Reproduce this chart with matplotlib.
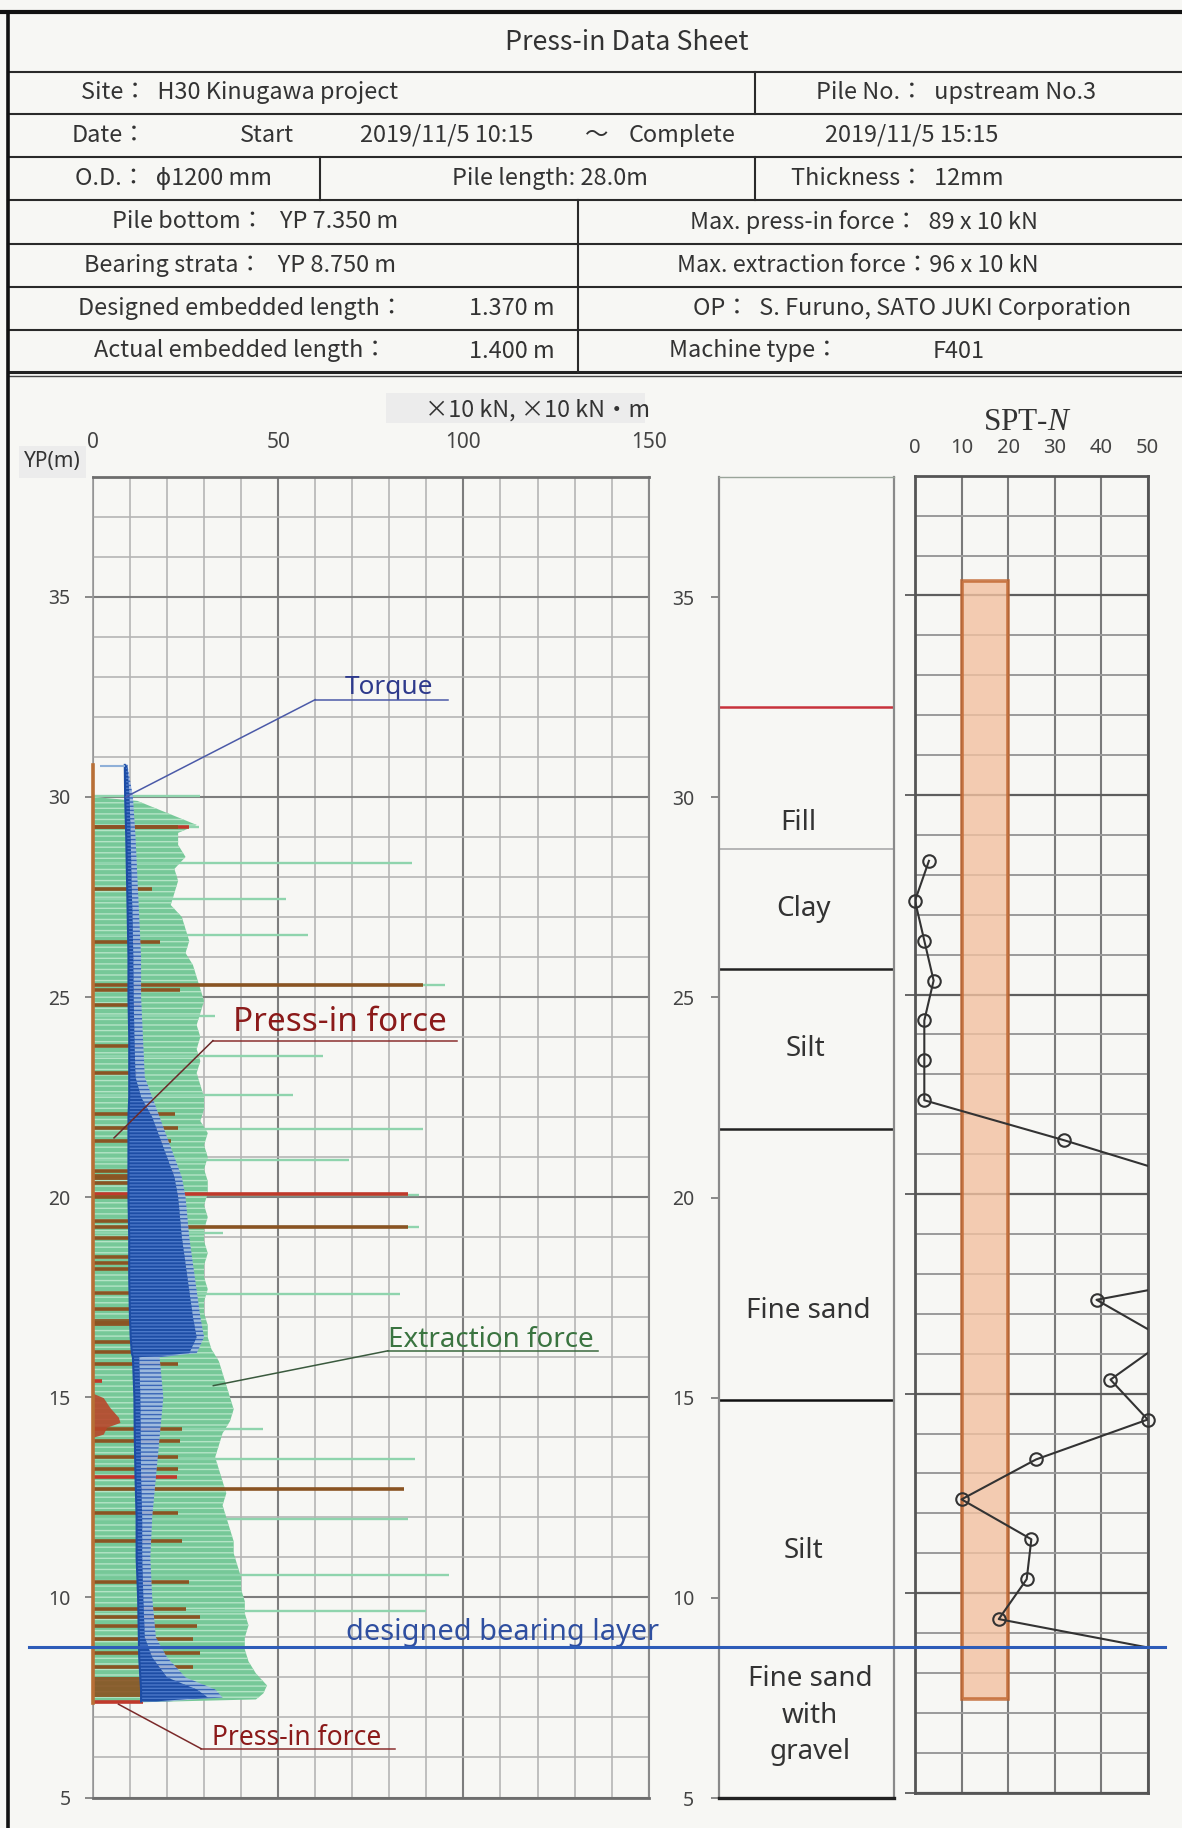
import matplotlib
matplotlib.use('Agg')
import matplotlib.pyplot as plt
import matplotlib.transforms as mtransforms
from matplotlib.patches import Rectangle

W, H = 1182, 1828
BG = '#f7f7f4'
JP = ['Noto Sans CJK JP', 'DejaVu Sans']
SANS = ['Noto Sans', 'DejaVu Sans']

plt.rcParams['mathtext.fontset'] = 'custom'
plt.rcParams['mathtext.rm'] = 'Liberation Serif'
plt.rcParams['mathtext.it'] = 'Liberation Serif:italic'
plt.rcParams['hatch.linewidth'] = 1.0

# ---------------- header sheet ----------------
sheet_title = 'Press-in Data Sheet'
row_lines = [12, 72, 114, 157, 200, 244, 287, 330, 372]
row1 = [('Site：  H30 Kinugawa project', 81), ('Pile No.：  upstream No.3', 816)]
row2 = [('Date：', 72), ('Start', 240), ('2019/11/5 10:15', 360), ('～', 584),
        ('Complete', 629), ('2019/11/5 15:15', 825)]
row3 = [('O.D.：  ϕ1200 mm', 75), ('Pile length: 28.0m', 452), ('Thickness：  12mm', 791)]
row4 = [('Pile bottom：   YP 7.350 m', 112), ('Max. press-in force：  89 x 10 kN', 690)]
row5 = [('Bearing strata：   YP 8.750 m', 84), ('Max. extraction force：96 x 10 kN', 677)]
row6 = [('Designed embedded length：', 78), ('1.370 m', 469),
        ('OP：  S. Furuno, SATO JUKI Corporation', 693)]
row7 = [('Actual embedded length：', 94), ('1.400 m', 469), ('Machine type：', 669), ('F401', 933)]
rows = [row1, row2, row3, row4, row5, row6, row7]

# ---------------- press-in record ----------------
bearing_layer = 8.75
pile_bottom = 7.35
pile_length = 28.0
record_top = 30.8

# extraction force: envelope of the dense record (YP m, x10 kN)
ext_depth = [30.0, 29.9, 29.6, 29.3, 29.1, 28.8, 28.5, 28.2, 27.9, 27.6, 27.3, 27.0, 26.7,
             26.4, 26.1, 25.8, 25.5, 25.2, 24.9, 24.6, 24.3, 24.0, 23.7, 23.4, 23.1, 22.8,
             22.5, 22.2, 21.9, 21.6, 21.3, 21.0, 20.7, 20.4, 20.1, 19.8, 19.5, 19.2, 18.9,
             18.6, 18.3, 18.0, 17.7, 17.4, 17.1, 16.8, 16.5, 16.2, 15.9, 15.6, 15.3, 15.0,
             14.7, 14.4, 14.1, 13.8, 13.5, 13.2, 12.9, 12.6, 12.3, 12.0, 11.7, 11.4, 11.1,
             10.8, 10.5, 10.2, 9.9, 9.6, 9.3, 9.0, 8.7, 8.4, 8.1, 7.8, 7.6, 7.45, 7.35]
ext_value = [0, 12, 20, 28, 23, 23, 25, 22, 23, 22, 21, 24, 25,
             26, 25, 27, 28, 29, 30, 29, 28, 29, 28, 29, 28, 29,
             30, 30, 29, 31, 30, 31, 30, 31, 31, 30, 31, 30, 30,
             31, 30, 30, 31, 30, 30, 31, 31, 32, 34, 35, 36, 37,
             38, 37, 35, 34, 33, 34, 35, 36, 35, 36, 37, 38, 38,
             39, 40, 40, 41, 41, 42, 41, 41, 42, 44, 47, 46, 44, 0]
# isolated extraction force peaks
ext_peak_depth = [30.03, 29.25, 28.34, 27.46, 26.55, 25.31, 24.52, 23.52, 22.56, 21.71,
                  20.94, 20.06, 19.25, 19.10, 17.57, 14.20, 13.45, 11.96, 10.57, 9.65]
ext_peak_value = [29, 28.5, 86, 52, 58, 95, 33, 62, 54, 89,
                  69, 88, 88, 35, 83, 46, 87, 85, 96, 90]

# press-in force strokes
press_depth = [29.25, 27.70, 26.38, 25.31, 25.18, 24.80, 23.77, 23.10, 22.08, 21.73, 21.40,
               20.65, 20.50, 20.35, 20.00, 19.40, 19.25, 18.99, 18.50, 18.35, 18.20, 17.60,
               17.20, 16.86, 16.37, 16.12, 15.83, 14.20, 13.90, 13.50, 13.20, 12.70, 12.10,
               11.42, 10.38, 9.72, 9.51, 9.28, 8.97, 8.60, 8.26]
press_value = [23, 16, 18, 89, 23.5, 12.7, 13.5, 12, 22.2, 23, 21,
               22, 21.7, 18, 23, 11, 85, 10, 23, 23, 22, 10,
               12, 10.5, 11.4, 11.4, 23, 24, 23.5, 23, 23, 84, 23,
               24, 26, 25, 29, 28, 27, 29, 27]
press_red_depth = [29.25, 20.07, 15.41, 13.00, 7.39]
press_red_value = [26, 85, 2.4, 22.6, 13.5]
press_block_top = [8.02, 16.95, 20.58]
press_block_bottom = [7.52, 16.78, 20.44]
press_block_value = [14.5, 10.5, 22]
red_patch_depth = [15.10, 14.99, 14.74, 14.50, 14.37, 14.25, 14.08, 14.00]
red_patch_value = [0, 2.8, 4.6, 6.9, 7.3, 3.7, 2.8, 0]

# torque trace (x10 kN.m): left edge, solid trace edge, scatter extent
tq_depth = [30.8, 30.0, 29.0, 28.0, 27.0, 26.0, 25.0, 24.0, 23.0, 22.5, 22.0, 21.5, 21.0,
            20.5, 20.0, 19.0, 18.0, 17.0, 16.5, 16.1, 16.0, 15.0, 14.0, 13.0, 12.0, 11.0,
            10.0, 9.0, 8.5, 8.0, 7.7, 7.5, 7.4]
tq_low = [8.6, 8.7, 9.0, 9.2, 9.4, 9.6, 9.6, 9.8, 9.8, 9.8, 9.6, 9.6, 9.6,
          9.6, 9.6, 9.8, 9.8, 10.0, 10.2, 10.5, 10.8, 11.2, 11.3, 11.5, 11.8, 11.8,
          12.2, 12.4, 12.5, 12.8, 13.0, 13.0, 13.0]
tq_core = [9.3, 9.9, 10.2, 10.4, 10.7, 10.9, 11.0, 11.2, 11.5, 13, 16, 18, 20,
           22, 23, 24, 25.5, 27, 28, 26, 12.5, 12.8, 12.9, 13.0, 13.3, 13.3,
           13.6, 14.0, 16, 20, 28, 31, 17]
tq_high = [9.3, 10.8, 11.5, 12, 12.5, 13, 13, 13.5, 14, 16, 18, 20, 22,
           24, 25, 26, 27.5, 29, 30, 28, 18, 19, 18, 17, 16, 15.5,
           16, 17, 20, 25, 33, 35, 20]
tq_start = (30.78, 2.0, 8.7)

# ---------------- soil column ----------------
layer_bounds = [32.25, 28.71, 25.72, 21.71, 14.93]
bound_colors = ['#c8323c', '#b0b0b0', '#222222', '#222222', '#111111']
layer_names = ['Fill', 'Clay', 'Silt', 'Fine sand', 'Silt', 'Fine sand\nwith\ngravel']
label_y = [29.36, 27.21, 23.72, 17.16, 11.17, 7.06]
label_x = [0.45, 0.48, 0.495, 0.51, 0.48, 0.52]

# ---------------- SPT-N ----------------
spt_depth = [28.35, 27.35, 26.35, 25.35, 24.35, 23.35, 22.35, 21.35, 20.35, 19.35, 18.35,
             17.35, 16.35, 15.35, 14.35, 13.35, 12.35, 11.35, 10.35, 9.35, 8.35]
spt_n = [3, 0, 2, 4, 2, 2, 2, 32, 60, 70, 85,
         39, 54, 42, 50, 26, 10, 25, 24, 18, 63]


def fx(px):
    return px / W


def fy(py):
    return 1 - py / H


fig = plt.figure(figsize=(W / 100, H / 100), dpi=100, facecolor=BG)

# page layer (table, borders)
page = fig.add_axes([0, 0, 1, 1], zorder=0)
page.set_xlim(0, W)
page.set_ylim(H, 0)
page.axis('off')

page.plot([0, W], [row_lines[0], row_lines[0]], color='#111', lw=3)
for yl in row_lines[1:-1]:
    page.plot([8, W], [yl, yl], color='#2a2a2a', lw=1.5)
page.plot([8, W], [row_lines[-1], row_lines[-1]], color='#222', lw=2.2)
page.plot([8, W], [row_lines[-1] + 4, row_lines[-1] + 4], color='#444', lw=1.0)
page.plot([7.5, 7.5], [row_lines[0], H], color='#111', lw=2.6)
page.plot([755, 755], [row_lines[1], row_lines[2]], color='#2a2a2a', lw=1.5)
page.plot([320, 320], [row_lines[3], row_lines[4]], color='#2a2a2a', lw=1.5)
page.plot([755, 755], [row_lines[3], row_lines[4]], color='#2a2a2a', lw=1.5)
page.plot([578, 578], [row_lines[4], row_lines[8]], color='#2a2a2a', lw=1.5)

page.text(627, (row_lines[0] + row_lines[1]) / 2, sheet_title, ha='center', va='center',
          fontsize=19.3, family=JP, color='#333')
for i, cells in enumerate(rows):
    yc = (row_lines[i + 1] + row_lines[i + 2]) / 2
    for txt, x in cells:
        page.text(x, yc, txt, ha='left', va='center', fontsize=16.9, family=JP, color='#333')

page.text(24, 462, 'YP(m)', ha='left', va='center', fontsize=15, family=SANS, color='#333',
          bbox=dict(boxstyle='square,pad=0.25', fc='#ececec', ec='none'))
page.add_patch(Rectangle((386, 393), 259, 30, fc='#ececec', ec='none'))
page.text(650, 410, '×10 kN, ×10 kN・m', ha='right', va='center', fontsize=16.8, family=JP,
          color='#333')
page.text(1027, 430, 'SPT-$\\mathit{N}$', ha='center', va='baseline', fontsize=22.5,
          family='Liberation Serif', color='#333')

# ---------------- left: press-in record ----------------
ax1 = fig.add_axes([fx(92.9), fy(1797.5), fx(648.7 - 92.9), (1797.5 - 476.7) / H], zorder=1)
ax1.set_facecolor('none')
ax1.set_xlim(0, 150)
ax1.set_ylim(5, 38)
ax1.set_xticks([0, 50, 100, 150])
ax1.set_xticks(range(0, 151, 10), minor=True)
ax1.set_yticks(range(5, 36, 5))
ax1.set_yticks(range(5, 39), minor=True)
ax1.xaxis.tick_top()
ax1.tick_params(axis='x', which='both', length=0, pad=17, labelsize=15, labelcolor='#444')
ax1.tick_params(axis='y', which='major', length=6, width=1.2, color='#777', pad=10,
                labelsize=14, labelcolor='#444')
ax1.tick_params(axis='y', which='minor', length=0)
for lab in ax1.get_xticklabels() + ax1.get_yticklabels():
    lab.set_family(SANS)
ax1.grid(which='minor', color='#b5b5b5', lw=1.2, zorder=0)
ax1.grid(which='major', color='#7d7d7d', lw=1.5, zorder=0)
ax1.set_axisbelow(True)
for s in ['top', 'bottom']:
    ax1.spines[s].set_color('#6d6d6d')
    ax1.spines[s].set_linewidth(2)
ax1.spines['right'].set_color('#8a8a8a')
ax1.spines['right'].set_linewidth(1.5)
ax1.spines['left'].set_color('#9a9a9a')
ax1.spines['left'].set_linewidth(1.2)

ax1.fill_betweenx(ext_depth, 0, ext_value, facecolor='#76c898', edgecolor='#b4e4c6',
                  hatch='---', lw=0, zorder=2)
ax1.hlines(ext_peak_depth, 0, ext_peak_value, color='#8fd4ad', lw=1.7, zorder=2)

ax1.hlines(press_red_depth, 0, press_red_value, color='#c0392b', lw=2.6, zorder=3)
ax1.hlines(press_depth, 0, press_value, color='#8a5423', lw=2.6, zorder=3)
for t, b, v in zip(press_block_top, press_block_bottom, press_block_value):
    ax1.fill_betweenx([t, b], 0, v, color='#8a5423', lw=0, alpha=0.9, zorder=3)
ax1.fill_betweenx(red_patch_depth, 0, red_patch_value, color='#b8462a', lw=0,
                  alpha=0.9, zorder=3)
ax1.plot([0, 0], [record_top, pile_bottom], color='#b86f36', lw=2.6, zorder=3, clip_on=False)

ax1.fill_betweenx(tq_depth, tq_low, tq_high, facecolor='#9fb8e4', edgecolor='#2f5db4',
                  hatch='----', lw=0, alpha=0.9, zorder=4)
ax1.fill_betweenx(tq_depth, tq_low, tq_core, facecolor='#1d4da5', edgecolor='#4b78c8',
                  hatch='-----', lw=0, zorder=4)
ax1.plot(tq_low, tq_depth, color='#1d4da5', lw=1.5, zorder=4)
ax1.hlines(tq_start[0], tq_start[1], tq_start[2], color='#8fb0d8', lw=1.5, zorder=4)

# annotations
ann = dict(clip_on=False, zorder=6)
ax1.text(68, 32.58, 'Torque', color='#2e3a8c', fontsize=18.9, family=SANS, va='baseline', **ann)
ax1.plot([60, 95.8], [32.43, 32.43], color='#4b5aa8', lw=1.1, **ann)
ax1.plot([60, 8.9], [32.43, 30.0], color='#4b5aa8', lw=1.1, **ann)

ax1.text(37.8, 24.14, 'Press-in force', color='#8b1a1a', fontsize=24, family=SANS,
         va='baseline', **ann)
ax1.plot([32.4, 98.3], [23.91, 23.91], color='#8b3030', lw=1.1, **ann)
ax1.plot([32.4, 5.7], [23.91, 21.48], color='#6b2a2a', lw=1.1, **ann)

ax1.text(79.6, 16.25, 'Extraction force', color='#3a7440', fontsize=20, family=SANS,
         va='baseline', **ann)
ax1.plot([79.6, 136.3], [16.16, 16.16], color='#3a6a3e', lw=1.1, **ann)
ax1.plot([79.6, 32.5], [16.16, 15.29], color='#3a5a3e', lw=1.1, **ann)

ax1.text(68.3, 8.93, 'designed bearing layer', color='#2f4fa0', fontsize=20.8, family=SANS,
         va='baseline', **ann)

ax1.text(32.2, 6.3, 'Press-in force', color='#8b1a1a', fontsize=19, family=SANS,
         va='baseline', **ann)
ax1.plot([29.2, 81.5], [6.22, 6.22], color='#8b3030', lw=1.1, **ann)
ax1.plot([29.2, 6.9], [6.22, 7.33], color='#7b2a2a', lw=1.1, **ann)

# ---------------- middle: soil column ----------------
ax2 = fig.add_axes([fx(719.3), fy(1798), fx(894 - 719.3), (1798 - 477) / H], zorder=1)
ax2.set_facecolor('none')
ax2.set_xlim(0, 1)
ax2.set_ylim(5, 38)
ax2.set_xticks([])
ax2.set_yticks(range(5, 36, 5))
ax2.tick_params(axis='y', length=6, width=1.2, color='#777', pad=12, labelsize=14,
                labelcolor='#444')
for lab in ax2.get_yticklabels():
    lab.set_family(SANS)
for s in ['left', 'right']:
    ax2.spines[s].set_color('#8a8a8a')
    ax2.spines[s].set_linewidth(1.6)
ax2.spines['top'].set_color('#9aa59a')
ax2.spines['top'].set_linewidth(1.0)
ax2.spines['bottom'].set_color('#222')
ax2.spines['bottom'].set_linewidth(2.4)
for yb, c in zip(layer_bounds, bound_colors):
    ax2.axhline(yb, color=c, lw=1.3 if c == '#b0b0b0' else 1.8)
for name, yl, xl in zip(layer_names, label_y, label_x):
    ax2.text(xl, yl, name, ha='center', va='center', fontsize=20, family=SANS, color='#333',
             linespacing=1.4)

# ---------------- right: SPT-N ----------------
ax3 = fig.add_axes([fx(915), fy(1792.7), fx(1147.7 - 915), (1792.7 - 475.7) / H], zorder=1)
ax3.set_facecolor('none')
ax3.set_xlim(0, 50)
ax3.set_ylim(5, 38)
ax3.set_xticks(range(0, 51, 10))
ax3.set_yticks(range(5, 36, 5))
ax3.set_yticks(range(5, 39), minor=True)
ax3.xaxis.tick_top()
ax3.tick_params(axis='x', length=0, pad=13, labelsize=14.5, labelcolor='#444')
ax3.tick_params(axis='y', which='major', length=7, width=1.4, color='#666', labelleft=False)
ax3.tick_params(axis='y', which='minor', length=0)
for lab in ax3.get_xticklabels():
    lab.set_family(SANS)
ax3.grid(axis='x', color='#7a7a7a', lw=1.5, zorder=0)
ax3.grid(axis='y', which='minor', color='#9a9a9a', lw=1.4, zorder=0)
ax3.grid(axis='y', which='major', color='#5e5e5e', lw=1.6, zorder=0)
ax3.set_axisbelow(True)
for s in ax3.spines.values():
    s.set_color('#555')
    s.set_linewidth(2)
ax3.bar(15, pile_length, bottom=pile_bottom, width=10, color='#f2c1a0', alpha=0.8,
        edgecolor='#c0622a', lw=2.6, zorder=2)
ax3.plot(spt_n, spt_depth, color='#333', lw=1.5, zorder=3)
vis_n = [n for n in spt_n if n <= 50]
vis_d = [d for d, n in zip(spt_depth, spt_n) if n <= 50]
ax3.plot(vis_n, vis_d, ls='none', marker='o', ms=9, mfc='none', mec='#333', mew=1.5,
         zorder=4, clip_on=False)

# ---------------- overlay: bearing layer line ----------------
top = fig.add_axes([0, 0, 1, 1], zorder=10)
top.set_facecolor('none')
top.set_xlim(0, W)
top.set_ylim(H, 0)
top.axis('off')
tr = mtransforms.blended_transform_factory(top.transData, ax1.transData)
top.plot([29, 1165], [bearing_layer, bearing_layer], color='#2e5cb8', lw=2.2, transform=tr)

fig.savefig('out.png', dpi=100, facecolor=BG)
